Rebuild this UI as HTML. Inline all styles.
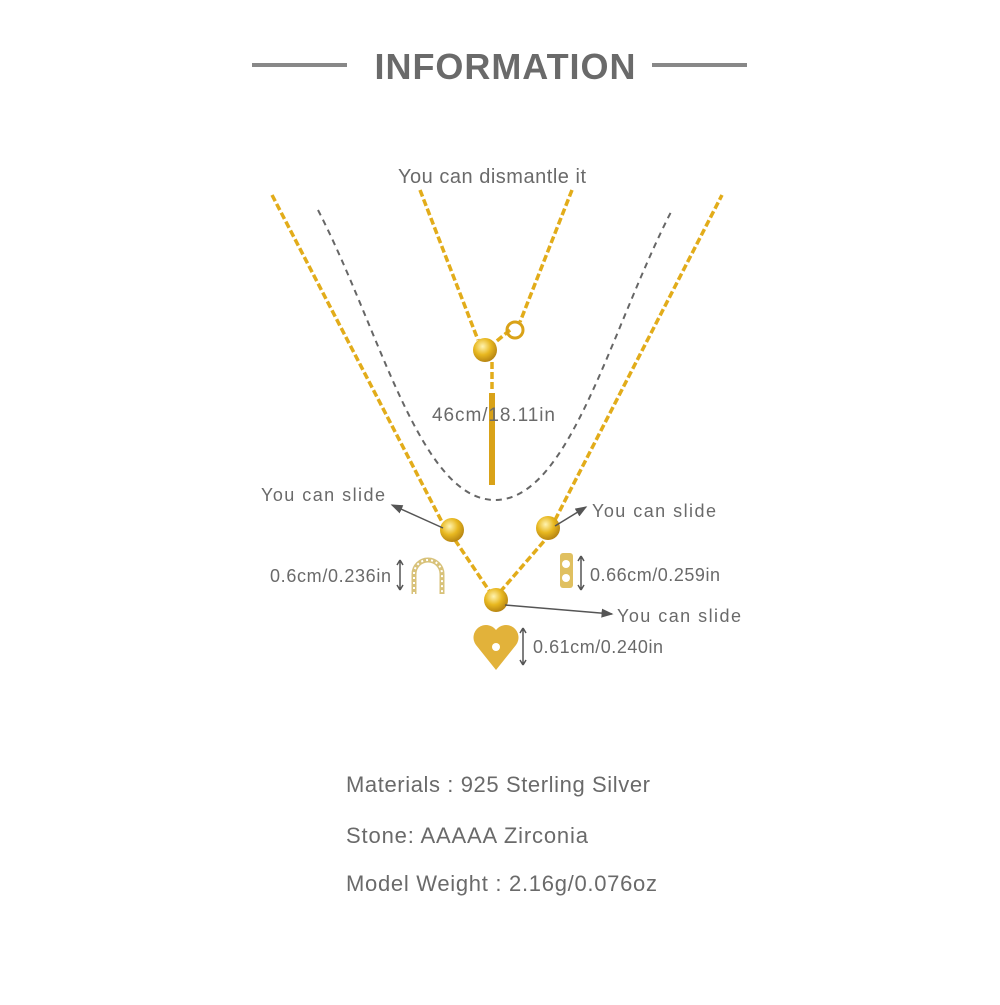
<!DOCTYPE html>
<html><head><style>
body{margin:0;background:#fff;}
.t{font-family:"Liberation Sans",sans-serif;fill:#6a6a6a;}
</style></head><body>
<svg width="1000" height="1000" viewBox="0 0 1000 1000" xmlns="http://www.w3.org/2000/svg">
<defs>
<radialGradient id="g" cx="0.4" cy="0.35" r="0.7"><stop offset="0" stop-color="#fff3b0"/><stop offset="0.5" stop-color="#e8b820"/><stop offset="1" stop-color="#b07e10"/></radialGradient>
<marker id="a" markerWidth="8" markerHeight="8" refX="7" refY="4" orient="auto"><path d="M0,1 L8,4 L0,7z" fill="#555"/></marker>
</defs>
<rect x="252" y="63" width="95" height="4" fill="#888"/>
<rect x="652" y="63" width="95" height="4" fill="#888"/>
<text x="505" y="79" class="t" font-size="36" font-weight="bold" text-anchor="middle" textLength="261" fill="#6a6a6a">INFORMATION</text>
<text x="492" y="183" class="t" font-size="20" text-anchor="middle" textLength="188">You can dismantle it</text>
<path d="M318,210 C380,330 420,500 495,500 C570,500 610,330 672,210" fill="none" stroke="#666" stroke-width="2" stroke-dasharray="6,5"/>
<g fill="none" stroke="#e2ac1a" stroke-width="3.5" stroke-dasharray="7,3">
<path d="M272,195 L442,522"/>
<path d="M455,540 L490,592"/>
<path d="M500,592 L545,540"/>
<path d="M555,520 L722,195"/>
<path d="M420,190 L478,340"/>
<path d="M572,190 L520,322"/>
<path d="M510,330 L492,345"/>
<path d="M492,362 L492,392"/>
</g>
<circle cx="515" cy="330" r="8" fill="none" stroke="#d9a218" stroke-width="3"/>
<rect x="489" y="393" width="6" height="92" fill="#d9a218"/>
<circle cx="485" cy="350" r="12" fill="url(#g)"/>
<text x="432" y="421" class="t" font-size="19" textLength="123">46cm/18.11in</text>
<circle cx="452" cy="530" r="12" fill="url(#g)"/>
<circle cx="548" cy="528" r="12" fill="url(#g)"/>
<circle cx="496" cy="600" r="12" fill="url(#g)"/>
<path d="M414,594 L414,574 A14,14 0 0 1 442,574 L442,594" fill="none" stroke="#d8c27a" stroke-width="5"/>
<path d="M414,594 L414,574 A14,14 0 0 1 442,574 L442,594" fill="none" stroke="#fff" stroke-width="2" stroke-dasharray="2,3"/>
<rect x="560" y="553" width="13" height="35" rx="3" fill="#e0c060"/>
<circle cx="566" cy="564" r="4" fill="#fff"/><circle cx="566" cy="578" r="4" fill="#fff"/>
<path d="M496,670 L476,645 A11,11 0 0 1 496,630 A11,11 0 0 1 516,645 Z" fill="#e2b23a"/>
<circle cx="496" cy="647" r="4" fill="#fff"/>
<g stroke="#555" stroke-width="1.5" fill="none">
<path d="M443,528 L392,505" marker-end="url(#a)"/>
<path d="M555,526 L586,507" marker-end="url(#a)"/>
<path d="M505,605 L612,614" marker-end="url(#a)"/>
<path d="M400,560 L400,590 M400,560 l-3,5 M400,560 l3,5 M400,590 l-3,-5 M400,590 l3,-5"/>
<path d="M581,556 L581,590 M581,556 l-3,5 M581,556 l3,5 M581,590 l-3,-5 M581,590 l3,-5"/>
<path d="M523,628 L523,665 M523,628 l-3,5 M523,628 l3,5 M523,665 l-3,-5 M523,665 l3,-5"/>
</g>
<text x="261" y="501" class="t" font-size="18" textLength="124">You can slide</text>
<text x="592" y="517" class="t" font-size="18" textLength="124">You can slide</text>
<text x="617" y="622" class="t" font-size="18" textLength="124">You can slide</text>
<text x="270" y="582" class="t" font-size="18" textLength="121">0.6cm/0.236in</text>
<text x="590" y="581" class="t" font-size="18" textLength="130">0.66cm/0.259in</text>
<text x="533" y="653" class="t" font-size="18" textLength="130">0.61cm/0.240in</text>
<text x="346" y="792" class="t" font-size="22" textLength="304">Materials : 925 Sterling Silver</text>
<text x="346" y="843" class="t" font-size="22" textLength="242">Stone: AAAAA Zirconia</text>
<text x="346" y="891" class="t" font-size="22" textLength="311">Model Weight : 2.16g/0.076oz</text>
</svg>
</body></html>
